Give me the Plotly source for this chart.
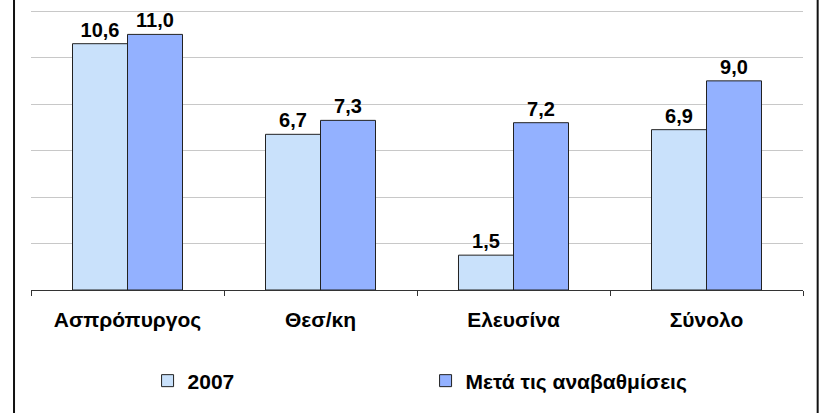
import plotly.graph_objects as go

categories = ["Ασπρόπυργος", "Θεσ/κη", "Ελευσίνα", "Σύνολο"]
values_2007 = [10.6, 6.7, 1.5, 6.9]
values_after = [11.0, 7.3, 7.2, 9.0]
series_names = ["2007", "Μετά τις αναβαθμίσεις"]

FONT = "Liberation Sans, Arial"

fig = go.Figure(data=[
    go.Bar(name=series_names[0], x=categories, y=values_2007,
           marker=dict(color="#C9E1FB", line=dict(color="#222222", width=1)),
           texttemplate="%{y:.1f}", textposition="outside", cliponaxis=False),
    go.Bar(name=series_names[1], x=categories, y=values_after,
           marker=dict(color="#93B1FF", line=dict(color="#222222", width=1)),
           texttemplate="%{y:.1f}", textposition="outside", cliponaxis=False),
])

fig.update_traces(textfont=dict(family=FONT, size=20, color="black", weight="bold"))

# outer frame (left and right edges only, the rest is cut off)
for x in [-0.022, 1.019]:
    fig.add_shape(type="line", xref="paper", yref="paper", x0=x, x1=x, y0=-0.5, y1=1.1,
                  line=dict(color="#111111", width=2), layer="above")

fig.update_layout(
    barmode="group",
    bargap=0.43,
    bargroupgap=0,
    separators=",.",
    width=830,
    height=413,
    margin=dict(l=31, r=27, t=10, b=123),
    plot_bgcolor="white",
    paper_bgcolor="white",
    font=dict(family=FONT, size=20, color="black"),
    showlegend=True,
    legend=dict(orientation="h", x=0.151, xanchor="left", y=-0.325, yanchor="middle",
                entrywidth=233, entrywidthmode="pixels",
                font=dict(size=21, family=FONT, weight="bold")),
    xaxis=dict(showline=True, linecolor="#333333", linewidth=1,
               ticks="outside", tickcolor="#333333", ticklen=5,
               tickson="boundaries",
               tickfont=dict(size=21, weight="bold"), ticklabelstandoff=11),
    yaxis=dict(range=[0, 12.05], dtick=2, showticklabels=False,
               showgrid=True, gridcolor="#C8C8C8", gridwidth=1,
               zeroline=False, showline=False),
)

# the page body has a default 8px margin; drop it so the figure sits at the corner
fig.write_html("out.html", config={"displayModeBar": False},
               post_script="document.body.style.margin = '0'; document.body.style.overflow = 'hidden';")
